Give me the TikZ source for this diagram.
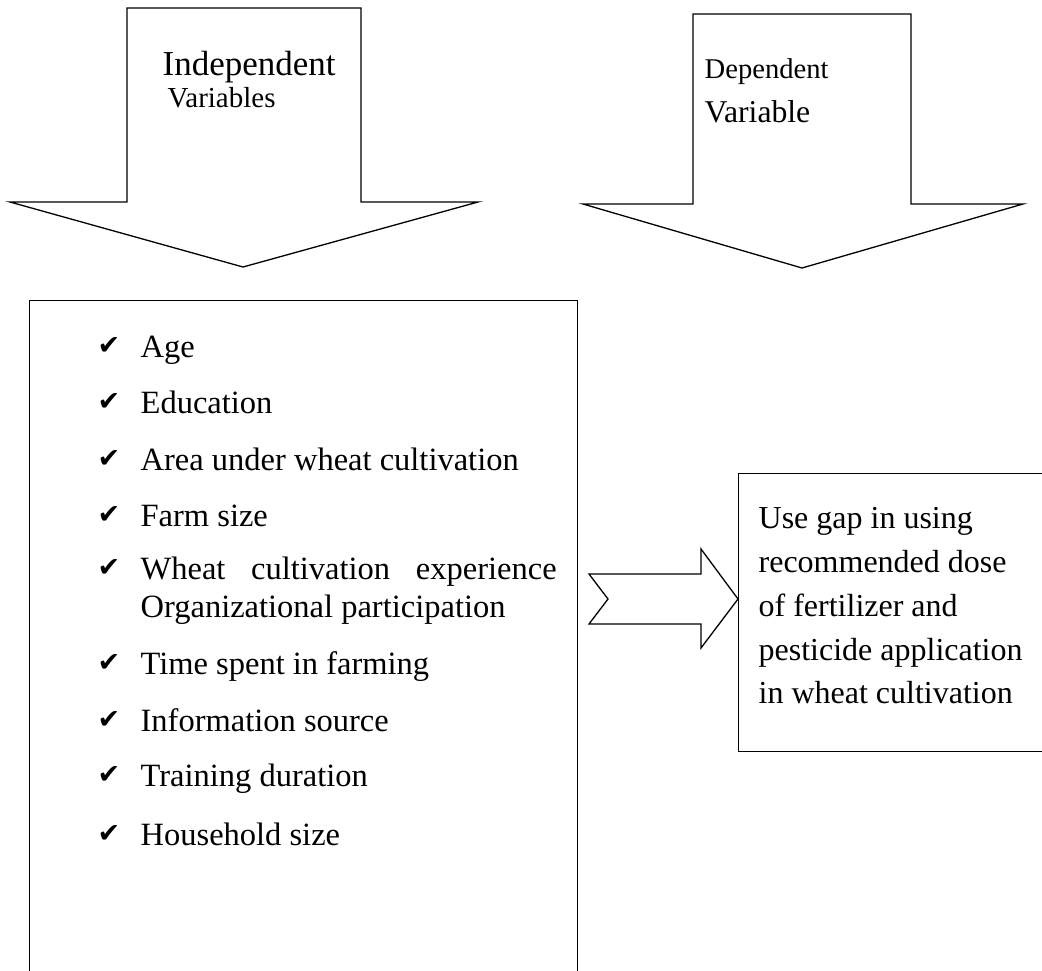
\documentclass[tikz,border=0pt]{standalone}
\usepackage{fontspec}
\setmainfont{Liberation Serif}
\newfontfamily\symfont{DejaVu Sans}
\newcommand{\fs}[1]{\fontsize{#1}{#1}\selectfont}
\newcommand{\chk}{\makebox[43pt][l]{\raisebox{3pt}{\symfont\fs{27}✔}}}
\tikzset{
	item/.style={anchor=base west,inner sep=0pt,font=\fs{32.5}},
	arrowtext/.style={anchor=base west,inner sep=0pt}
}

\begin{document}
\begin{tikzpicture}[x=1pt,y=-1pt,line width=1.3pt]
	\useasboundingbox (0,0) rectangle (1042,970);
	\clip (0,0) rectangle (1042,970);
	
	% Draw the two down arrows
	\draw (127,8) -- (361,8) -- (361,202) -- (478,202) -- (243,267) -- (10,202) -- (127,202) -- cycle;
	\draw (693,14) -- (911,14) -- (911,204) -- (1023,204) -- (802,268) -- (583,204) -- (693,204) -- cycle;
	
	% Draw the texts in the arrows
	\node (indep) at (162,75) [arrowtext,font=\fs{35}] {Independent};
	\node (indepvar) at (167,107) [arrowtext,font=\fs{29}] {Variables};
	\node (dep) at (704,78) [arrowtext,font=\fs{28.6}] {Dependent};
	\node (depvar) at (704,122) [arrowtext,font=\fs{31.7}] {Variable};
	
	% Draw boxes
	\node (factors) at (29,300) [draw,anchor=north west,minimum width=548pt,minimum height=700pt] {};
	\node (gap) at (738,473) [draw,anchor=north west,minimum width=330pt,minimum height=278pt] {};
	
	% Draw the list of independent variables
	\node (age) at (97,357) [item] {\chk Age};
	\node (edu) at (97,413) [item] {\chk Education};
	\node (area) at (97,470) [item] {\chk Area under wheat cultivation};
	\node (farm) at (97,526) [item] {\chk Farm size};
	\node (exp) at (97,579) [item] {\chk\hbox to 416pt{Wheat\hfill cultivation\hfill experience}};
	\node (org) at (140,617) [item] {Organizational participation};
	\node (time) at (97,674) [item] {\chk Time spent in farming};
	\node (info) at (97,731) [item] {\chk Information source};
	\node (train) at (97,786) [item] {\chk Training duration};
	\node (house) at (97,845) [item] {\chk Household size};
	
	% Draw the arrow into the dependent variable
	\draw (589,574) -- (701,574) -- (701,549) -- (738,599) -- (701,648) -- (701,624) -- (589,624) -- (608,599) -- cycle;
	
	% Draw the dependent variable
	\node (gaptext) at (758,507) [anchor=north west,inner sep=0pt,align=left,font=\fontsize{32}{43.75}\selectfont] {Use gap in using\\recommended dose\\of fertilizer and\\pesticide application\\in wheat cultivation};
	
\end{tikzpicture}
\end{document}
